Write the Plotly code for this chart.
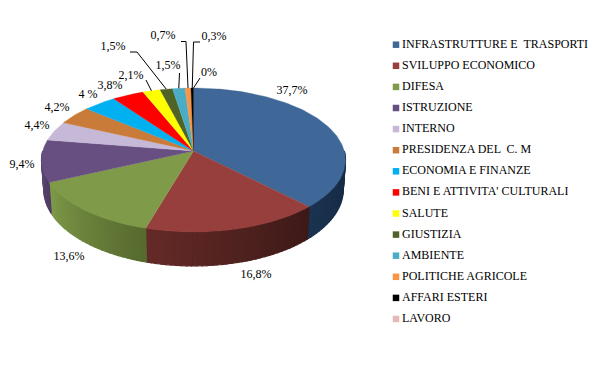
import math
import plotly.graph_objects as go

categories = ["INFRASTRUTTURE E  TRASPORTI", "SVILUPPO ECONOMICO", "DIFESA", "ISTRUZIONE", "INTERNO",
              "PRESIDENZA DEL  C. M", "ECONOMIA E FINANZE", "BENI E ATTIVITA' CULTURALI", "SALUTE",
              "GIUSTIZIA", "AMBIENTE", "POLITICHE AGRICOLE", "AFFARI ESTERI", "LAVORO"]
values = [37.7, 16.8, 13.6, 9.4, 4.4, 4.2, 4.0, 3.8, 2.1, 1.5, 1.5, 0.7, 0.3, 0.0]
value_labels = ["37,7%", "16,8%", "13,6%", "9,4%", "4,4%", "4,2%", "4 %", "3,8%", "2,1%", "1,5%", "1,5%", "0,7%", "0,3%", "0%"]
colors = ["#3F6797", "#963F3D", "#7F9A48", "#674F82", "#C6B9D8", "#C97B39", "#00B0F0", "#FF0000",
          "#FFFF00", "#4F6228", "#4BACC6", "#F79646", "#000000", "#E6B9B8"]

# presentation only: wall shading and label placement (page pixels)
wall_left = {0: "#1A3350", 1: "#652A27", 2: "#7F9A48", 3: "#5A4672"}
wall_right = {0: "#152840", 1: "#3C1917", 2: "#56692F", 3: "#4F3C66"}
label_xy = [(292, 91), (256, 275), (69, 257), (22, 165), (37, 126), (57, 108), (88, 95), (110, 86),
            (131, 76), (113, 47), (168, 66), (163, 36), (214, 37), (209, 73)]
leader_via = {8: [], 9: [(137, 52), (130, 52)], 10: [], 11: [(186, 41.5), (181, 41.5)],
              12: [(193.5, 42), (200, 42)], 13: []}
leader_end = {8: (146, 80), 10: (179.5, 73), 13: (200, 78)}

CX, CY, B, A, K = 193.5, 151, 150.8, 70.9, 0.125
DEPTH, SX, SY = 29, 0.985, 1.06
LEG_X, LEG_Y0, LEG_STEP = 396, 44.7, 21.1


def top(theta):
    u, v = math.sin(theta), math.cos(theta)
    w = 1 + K * v
    return CX + B * u / w, CY - A * v / w


def bottom(theta):
    x, y = top(theta)
    return CX + SX * (x - CX), CY + DEPTH + SY * (y - CY)


def mix(c1, c2, t):
    a = [int(c1[i:i + 2], 16) for i in (1, 3, 5)]
    b = [int(c2[i:i + 2], 16) for i in (1, 3, 5)]
    return "#%02x%02x%02x" % tuple(round(p + (q - p) * t) for p, q in zip(a, b))


total = sum(values)
edges = [0.0]
for val in values:
    edges.append(edges[-1] + val / total * 2 * math.pi)

fig = go.Figure()
hidden = dict(hoverinfo="skip", showlegend=False)

# side walls, visible on the front half only
for i, col in wall_left.items():
    start, end = max(edges[i], math.pi / 2), min(edges[i + 1], 3 * math.pi / 2)
    if end <= start:
        continue
    n = max(2, int((end - start) / 0.03))
    for s in range(n):
        a0 = start + (end - start) * s / n
        a1 = start + (end - start) * (s + 1) / n
        c = mix(wall_left[i], wall_right[i], 1 - (s + 0.5) / n)
        pts = [top(a0), top(a1), bottom(a1), bottom(a0), top(a0)]
        fig.add_trace(go.Scatter(x=[p[0] for p in pts], y=[p[1] for p in pts], mode="lines", fill="toself",
                                 fillcolor=c, line=dict(color=c, width=1.2), **hidden))

# top face
for i, col in enumerate(colors):
    if values[i] <= 0:
        continue
    n = max(2, int((edges[i + 1] - edges[i]) / 0.02))
    pts = [(CX, CY)] + [top(edges[i] + (edges[i + 1] - edges[i]) * s / n) for s in range(n + 1)] + [(CX, CY)]
    fig.add_trace(go.Scatter(x=[p[0] for p in pts], y=[p[1] for p in pts], mode="lines", fill="toself",
                             fillcolor=col, line=dict(color=col, width=0.3), name=categories[i],
                             hoverinfo="name", showlegend=False))

# leader lines
for i in range(8, 14):
    mid = (edges[i] + edges[i + 1]) / 2
    pts = [top(mid)] + leader_via.get(i, [])
    if i in leader_end:
        pts.append(leader_end[i])
    fig.add_trace(go.Scatter(x=[p[0] for p in pts], y=[p[1] for p in pts], mode="lines",
                             line=dict(color="#000000", width=1), **hidden))

# value labels
fig.add_trace(go.Scatter(x=[p[0] for p in label_xy], y=[p[1] for p in label_xy], mode="text",
                         text=value_labels, textposition="middle center",
                         textfont=dict(family="Liberation Serif", size=12, color="#000000"), **hidden))

# legend
leg_y = [LEG_Y0 + LEG_STEP * i for i in range(len(categories))]
fig.add_trace(go.Scatter(x=[LEG_X] * len(categories), y=leg_y, mode="markers",
                         marker=dict(symbol="square", size=6.5, color=colors, line=dict(width=0)), **hidden))
fig.add_trace(go.Scatter(x=[LEG_X + 6] * len(categories), y=leg_y, mode="text", text=categories,
                         textposition="middle right", cliponaxis=False,
                         textfont=dict(family="Liberation Serif", size=12, color="#000000"), **hidden))

fig.update_layout(width=599, height=365, margin=dict(l=0, r=0, t=0, b=0), paper_bgcolor="#FFFFFF",
                  plot_bgcolor="#FFFFFF", showlegend=False,
                  xaxis=dict(range=[0, 599], visible=False, fixedrange=True),
                  yaxis=dict(range=[365, 0], visible=False, fixedrange=True))
fig.write_html("out.html", config={"displayModeBar": False}, default_width="599px", default_height="365px",
               post_script="document.body.style.margin='0';document.documentElement.style.overflow='hidden';")
